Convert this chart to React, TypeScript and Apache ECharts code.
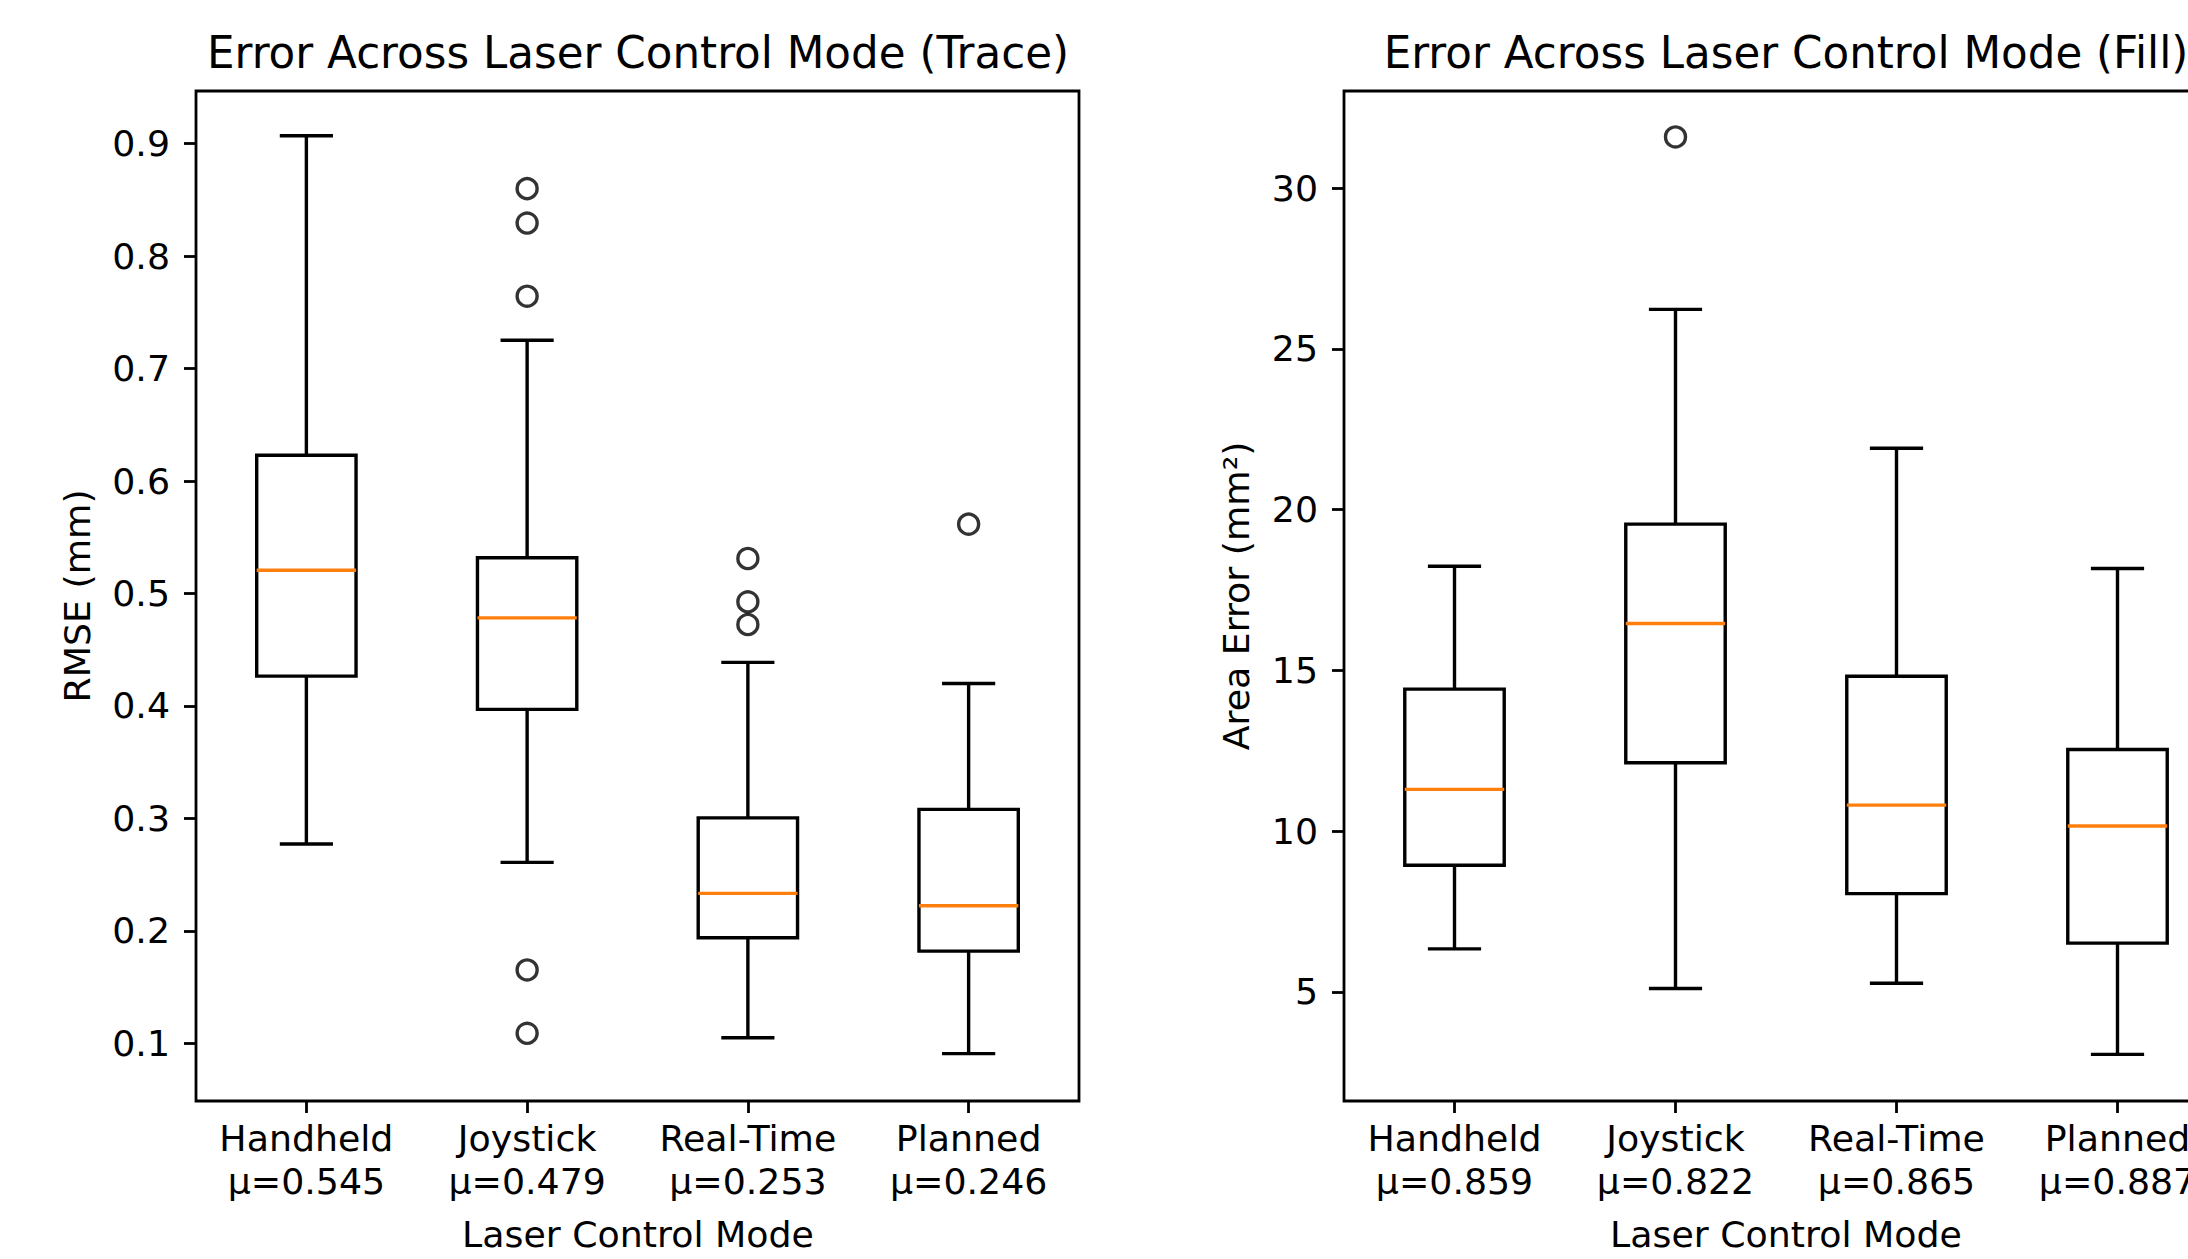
import React, { useEffect, useRef } from "react";
import * as echarts from "echarts";

const categories = ["Handheld", "Joystick", "Real-Time", "Planned"];

// Trace (RMSE, mm): [low whisker, Q1, median, Q3, high whisker]
const traceStats = [
  [0.2772, 0.4265, 0.5207, 0.6229, 0.907],
  [0.2609, 0.3969, 0.4783, 0.5317, 0.7252],
  [0.105, 0.1939, 0.2333, 0.3005, 0.4387],
  [0.0908, 0.182, 0.2223, 0.308, 0.42],
];
const traceOutliers = [
  [1, 0.86], [1, 0.8294], [1, 0.7643], [1, 0.1652], [1, 0.1089],
  [2, 0.5311], [2, 0.4926], [2, 0.4724],
  [3, 0.5616],
];
const traceMeans = ["0.545", "0.479", "0.253", "0.246"];
const traceTicks = [0.1, 0.2, 0.3, 0.4, 0.5, 0.6, 0.7, 0.8, 0.9];

// Fill (Area error, mm²)
const fillStats = [
  [6.34, 8.94, 11.3, 14.42, 18.24],
  [5.11, 12.13, 16.46, 19.55, 26.23],
  [5.27, 8.06, 10.81, 14.82, 21.91],
  [3.06, 6.52, 10.16, 12.54, 18.17],
];
const fillOutliers = [[1, 31.59]];
const fillMeans = ["0.859", "0.822", "0.865", "0.887"];
const fillTicks = [5, 10, 15, 20, 25, 30];

const FONT = "DejaVu Sans";
const TICK_FS = 36.3;
const TITLE_FS = 43.6;

function boxRender(params: any, api: any) {
  const i = api.value(0);
  const low = api.coord([i, api.value(1)]);
  const q1 = api.coord([i, api.value(2)]);
  const med = api.coord([i, api.value(3)]);
  const q3 = api.coord([i, api.value(4)]);
  const high = api.coord([i, api.value(5)]);
  const band = api.size([1, 0])[0];
  const bw = band * 0.45;
  const cw = band * 0.225 + 3.5;
  const x = low[0];
  const st = { stroke: "#000", lineWidth: 3.4, fill: "none" };
  return {
    type: "group",
    children: [
      { type: "line", shape: { x1: x, y1: high[1], x2: x, y2: q3[1] }, style: st },
      { type: "line", shape: { x1: x, y1: q1[1], x2: x, y2: low[1] }, style: st },
      { type: "line", shape: { x1: x - cw / 2, y1: high[1], x2: x + cw / 2, y2: high[1] }, style: st },
      { type: "line", shape: { x1: x - cw / 2, y1: low[1], x2: x + cw / 2, y2: low[1] }, style: st },
      { type: "rect", shape: { x: x - bw / 2, y: q3[1], width: bw, height: q1[1] - q3[1] }, style: st },
      {
        type: "line",
        shape: { x1: x - bw / 2, y1: med[1], x2: x + bw / 2, y2: med[1] },
        style: { stroke: "#ff7f0e", lineWidth: 3.4 },
      },
    ],
  };
}

function makeX(gridIndex: number, means: string[]) {
  return {
    type: "category",
    gridIndex,
    data: categories,
    boundaryGap: true,
    axisLine: { show: false },
    axisTick: { show: true, alignWithLabel: true, length: 12, lineStyle: { color: "#000", width: 2.8 } },
    axisLabel: {
      interval: 0,
      color: "#000",
      fontFamily: FONT,
      fontSize: TICK_FS,
      lineHeight: 43.2,
      margin: 16,
      formatter: (v: string) => {
        const idx = categories.indexOf(v);
        return v + "\n" + "μ=" + means[idx];
      },
    },
    splitLine: { show: false },
  };
}

function makeY(gridIndex: number, min: number, max: number, ticks: number[]) {
  return {
    type: "value",
    gridIndex,
    min,
    max,
    axisLine: { show: false },
    axisTick: { show: true, length: 12, customValues: ticks, lineStyle: { color: "#000", width: 2.8 } },
    axisLabel: {
      customValues: ticks,
      color: "#000",
      fontFamily: FONT,
      fontSize: TICK_FS,
      margin: 26,
      formatter: (v: number) => String(Math.round(v * 10) / 10),
    },
    splitLine: { show: false },
  };
}

function text(t: string, x: number, y: number, fs: number, rotation = 0) {
  return {
    type: "text",
    x,
    y,
    rotation,
    style: {
      text: t,
      fill: "#000",
      fontFamily: FONT,
      fontSize: fs,
      align: "center",
      verticalAlign: "middle",
      textAlign: "center",
      textVerticalAlign: "middle",
    },
  };
}

export default function App() {
  const ref = useRef<HTMLDivElement>(null);
  useEffect(() => {
    if (!ref.current) return;
    const chart = echarts.init(ref.current, null, { renderer: "svg" });
    const gridStyle = { show: true, borderColor: "#000", borderWidth: 2.8, backgroundColor: "transparent" };
    chart.setOption({
      animation: false,
      backgroundColor: "#fff",
      grid: [
        { left: 196, top: 91, width: 883, height: 1010, ...gridStyle },
        { left: 1344, top: 91, width: 884, height: 1010, ...gridStyle },
      ],
      xAxis: [makeX(0, traceMeans), makeX(1, fillMeans)],
      yAxis: [makeY(0, 0.0487, 0.9468, traceTicks), makeY(1, 1.61, 33.02, fillTicks)],
      series: [
        {
          type: "custom",
          xAxisIndex: 0,
          yAxisIndex: 0,
          renderItem: boxRender,
          encode: { x: 0, y: [1, 2, 3, 4, 5] },
          data: traceStats.map((s, i) => [i, ...s]),
          z: 2,
        },
        {
          type: "scatter",
          xAxisIndex: 0,
          yAxisIndex: 0,
          symbol: "circle",
          symbolSize: 20,
          itemStyle: { color: "rgba(0,0,0,0)", borderColor: "#000", borderWidth: 3.4 },
          data: traceOutliers,
          z: 3,
        },
        {
          type: "custom",
          xAxisIndex: 1,
          yAxisIndex: 1,
          renderItem: boxRender,
          encode: { x: 0, y: [1, 2, 3, 4, 5] },
          data: fillStats.map((s, i) => [i, ...s]),
          z: 2,
        },
        {
          type: "scatter",
          xAxisIndex: 1,
          yAxisIndex: 1,
          symbol: "circle",
          symbolSize: 20,
          itemStyle: { color: "rgba(0,0,0,0)", borderColor: "#000", borderWidth: 3.4 },
          data: fillOutliers,
          z: 3,
        },
      ],
      graphic: [
        text("Error Across Laser Control Mode (Trace)", 638, 53, TITLE_FS),
        text("Error Across Laser Control Mode (Fill)", 1786, 53, TITLE_FS),
        text("Laser Control Mode", 638, 1234, TICK_FS),
        text("Laser Control Mode", 1786, 1234, TICK_FS),
        text("RMSE (mm)", 77, 596, TICK_FS, Math.PI / 2),
        text("Area Error (mm²)", 1236, 596, TICK_FS, Math.PI / 2),
      ],
    });
    return () => chart.dispose();
  }, []);
  return (
    <div style={{ position: "fixed", left: 0, top: 0, width: 2188, height: 1259, overflow: "hidden", background: "#fff" }}>
      <div ref={ref} style={{ width: 2300, height: 1259 }} />
    </div>
  );
}
